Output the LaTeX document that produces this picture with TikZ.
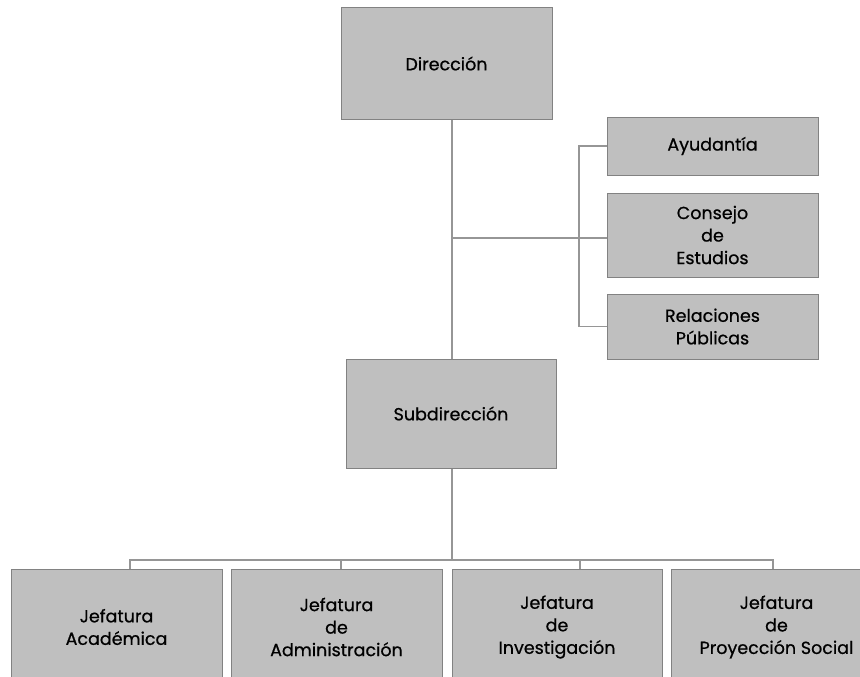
\documentclass[tikz,border=0pt]{standalone}
\usepackage{fontspec}
\setmainfont{Poppins}
\newfontfamily\unitfont{Poppins}[FakeBold=0.7]
\definecolor{boxfill}{RGB}{191,191,191}
\definecolor{boxedge}{RGB}{130,130,130}
\definecolor{wire}{RGB}{150,150,150}
\begin{document}
\begin{tikzpicture}[x=1pt,y=-1pt,
  unit/.style={draw=boxedge, fill=boxfill, line width=1pt, inner sep=0pt,
    align=center, font=\unitfont\fontsize{17.5}{22.5}\selectfont, text=black},
  link/.style={draw=wire, line width=1.1pt}]
\useasboundingbox (0,0) rectangle (860,677);
\begin{scope}
\clip (0,0) rectangle (860,677);
% top level
\node[unit, minimum width=211pt, minimum height=111pt] (dir) at (446.5,63.5) {Dirección};
\node[unit, minimum width=210pt, minimum height=109pt] (sub) at (451,413.5) {Subdirección};
% staff units
\node[unit, minimum width=211pt, minimum height=58pt] (ayu) at (712.5,146) {Ayudantía};
\node[unit, minimum width=211pt, minimum height=84pt] (con) at (712.5,235) {Consejo\\de\\Estudios};
\node[unit, minimum width=211pt, minimum height=65pt] (rel) at (712.5,326.5) {Relaciones\\Públicas};
% departments
\node[unit, minimum width=211pt, minimum height=116pt] (j1) at (116.5,627) {Jefatura\\Académica};
\node[unit, minimum width=211pt, minimum height=116pt] (j2) at (336.5,627) {Jefatura\\de\\Administración};
\node[unit, minimum width=210pt, minimum height=116pt] (j3) at (557,627) {Jefatura\\de\\Investigación};
\node[unit, minimum width=211pt, minimum height=116pt] (j4) at (776.5,627) {Jefatura\\de\\Proyección Social};
% connectors
\coordinate (bus) at (452,560);
\coordinate (staff) at (579,238);
\draw[link] (sub.north -| bus) -- (dir.south -| bus);
\draw[link] (staff -| bus) -- (staff -| con.west);
\draw[link] (ayu.west) -| (staff) |- (rel.west);
\draw[link] (sub.south -| bus) -- (bus);
\draw[link] ([xshift=13.5pt]j1.north) |- (bus) -| ([xshift=-3.5pt]j4.north);
\draw[link] ([xshift=4.5pt]j2.north) -- ([xshift=4.5pt]j2.north |- bus);
\draw[link] ([xshift=23pt]j3.north) -- ([xshift=23pt]j3.north |- bus);
\end{scope}
\end{tikzpicture}
\end{document}
